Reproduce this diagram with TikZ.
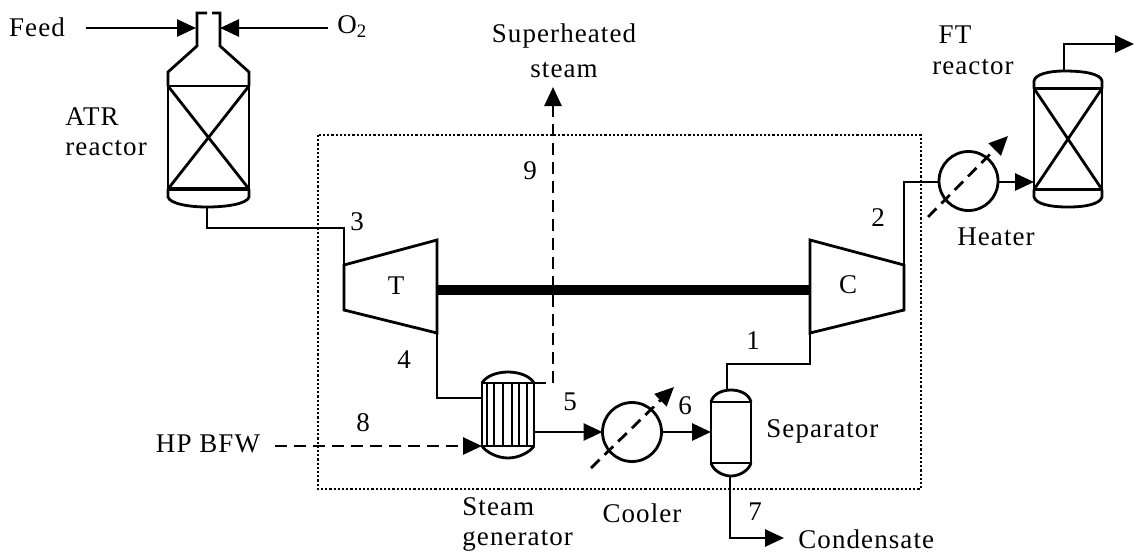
\documentclass[tikz,border=0pt]{standalone}
\usepackage{fontspec}
\setmainfont[LetterSpace=4]{Liberation Serif}
\usetikzlibrary{arrows.meta}
\begin{document}
\begin{tikzpicture}[x=1pt, y=-1pt, line width=2.8pt,
	lbl/.style={inner sep=0pt, font=\fontsize{27}{27}\selectfont},
	body/.style={draw, inner sep=0pt, outer sep=0pt},
	flow/.style={-{Triangle[length=19pt,width=17pt]}},
	steamflow/.style={flow, dashed, dash pattern=on 12pt off 7pt},
	hxcircle/.style={body, circle, minimum size=59pt}]
				
				\useasboundingbox (0,0) rectangle (1134,557);
				
				% System boundary
				\draw[dotted, line width=2.2pt] (318,135) rectangle (921,489);
				
				% ATR reactor
				\node[body, minimum width=81pt, minimum height=103pt] (atr) at (208.5,137.5) {};
				\draw (atr.north west) -- (atr.south east);
				\draw (atr.north east) -- (atr.south west);
				\draw (atr.north west) -- (168,72) -- (197,46) -- (197,13) -- (207,13);
				\draw (212,13) -- (220,13) -- (220,46) -- (249,72) -- (atr.north east);
				\draw[line width=3.5pt] (atr.south west) -- (atr.south east);
				\draw (atr.south west) -- (168,197) .. controls (170,204) and (190,207) .. (207,207)
				.. controls (226,207) and (247,204) .. (249,197) -- (atr.south east);
				\coordinate (atrout) at (207,207);
				\coordinate (feedin) at (196,28);
				\coordinate (oxin) at (220,28);
				
				% FT reactor
				\node[body, minimum width=68pt, minimum height=101pt] (ft) at (1068,139) {};
				\draw (ft.north west) -- (ft.south east);
				\draw (ft.north east) -- (ft.south west);
				\draw[line width=3.5pt] (ft.south west) -- (ft.south east);
				\draw (ft.north west) -- (1034,81) .. controls (1035,74) and (1050,71) .. (1064,71)
				.. controls (1085,71) and (1101,74) .. (1102,81) -- (ft.north east);
				\draw (ft.south west) -- (1034,197) .. controls (1036,204) and (1050,207) .. (1068,207)
				.. controls (1086,207) and (1100,204) .. (1102,197) -- (ft.south east);
				\coordinate (ftout) at (1064,71);
				\coordinate (ftin) at (1034,182);
				
				% Turbine, compressor and shaft
				\draw (344,265) -- (437,240) -- (437,333) -- (344,310) -- cycle;
				\draw (810,240) -- (904,265) -- (904,310) -- (810,333) -- cycle;
				\coordinate (tin) at (344,265);
				\coordinate (tout) at (437,333);
				\coordinate (cin) at (810,333);
				\coordinate (cout) at (904,265);
				\draw[line width=10pt] (437,290) -- (810,290);
				
				% Steam generator
				\node[body, minimum width=52pt, minimum height=63pt] (sg) at (508,414.5) {};
				\foreach \tx in {487,494,503,512,519,527}
				\draw[line width=2.4pt] (\tx,383) -- (\tx,446);
				\draw (sg.north west) .. controls (486,376) and (497,372) .. (508,372)
				.. controls (519,372) and (530,376) .. (sg.north east);
				\draw (sg.south west) .. controls (486,452) and (497,458) .. (508,458)
				.. controls (519,458) and (530,452) .. (sg.south east);
				\coordinate (sgin) at (482,398);
				\coordinate (sgwater) at (482,446);
				\coordinate (sgsteam) at (534,383);
				\coordinate (sgout) at (534,432);
				
				% Heat exchangers
				\node[hxcircle] (cooler) at (632,432) {};
				\node[hxcircle] (heater) at (968.5,181) {};
				\coordinate (coolera) at (591,468);
				\coordinate (coolerb) at (674,387);
				\coordinate (heatera) at (928,217);
				\coordinate (heaterb) at (1008,136);
				\draw[steamflow] (coolera) -- (coolerb);
				\draw[steamflow] (heatera) -- (heaterb);
				
				% Separator
				\node[body, minimum width=40pt, minimum height=61pt] (sep) at (731,432.5) {};
				\draw (sep.north west) .. controls (713,394) and (722,390) .. (731,390)
				.. controls (740,390) and (749,394) .. (sep.north east);
				\draw (sep.south west) .. controls (713,470) and (722,476) .. (731,476)
				.. controls (740,476) and (749,470) .. (sep.south east);
				\coordinate (septop) at (727,390);
				\coordinate (sepbot) at (730,476);
				\coordinate (sepin) at (711,432);
				
				% Free ends
				\coordinate (feedend) at (86,28);
				\coordinate (oxend) at (328,28);
				\coordinate (bfwend) at (275,446);
				\coordinate (steamend) at (553,87);
				\coordinate (ftend) at (1134,44);
				\coordinate (condend) at (784,538);
				
				% Process streams
				\draw[flow] (feedend) -- (feedin);
				\draw[flow] (oxend) -- (oxin);
				\draw (atrout) -- (207,228) -- (344,228) -- (tin);
				\draw (tout) -- (437,398) -- (sgin);
				\draw[flow] (sgout) -- (cooler.west);
				\draw[flow] (cooler.east) -- (sepin);
				\draw (septop) -- (727,364) -- (810,364) -- (cin);
				\draw (cout) -- (904,182) -- (heater.west |- ftin);
				\draw[flow] (heater.east |- ftin) -- (ftin);
				\draw[flow] (ftout) -- (1064,44) -- (ftend);
				\draw[flow] (sepbot) -- (730,538) -- (condend);
				
				% Water and steam
				\draw[steamflow] (bfwend) -- (sgwater);
				\draw[steamflow] (sgsteam) -- (553,383) -- (steamend);
				
				% Labels
				\node[lbl] (feed) at (37,27) {Feed};
				\node[lbl, anchor=west] (oxygen) at (336,27) {O\textsubscript{2}};
				\node[lbl, anchor=west] (atrlbl) at (64,117) {ATR};
				\node[lbl, anchor=west] (atrlblb) at (64,148) {reactor};
				\node[lbl] (steam) at (564,36) {Superheated};
				\node[lbl] (steamb) at (564,70) {steam};
				\node[lbl] (ftlbl) at (955,35) {FT};
				\node[lbl] (ftlblb) at (973,67) {reactor};
				\node[lbl] (hplbl) at (208,444) {HP BFW};
				\node[lbl] (tlbl) at (396,286) {T};
				\node[lbl] (clbl) at (848,285) {C};
				\node[lbl] (heaterlbl) at (996,237) {Heater};
				\node[lbl] (coolerlbl) at (642,513) {Cooler};
				\node[lbl, anchor=west] (seplbl) at (765,431) {Separator};
				\node[lbl, anchor=west] (sglbl) at (461,507) {Steam};
				\node[lbl, anchor=west] (sglblb) at (461,541) {generator};
				\node[lbl, anchor=west] (condlbl) at (797,539) {Condensate};
				
				% Stream numbers
				\node[lbl] (n1) at (753,341) {1};
				\node[lbl] (n2) at (878,218) {2};
				\node[lbl] (n3) at (357,222) {3};
				\node[lbl] (n4) at (404,360) {4};
				\node[lbl] (n5) at (570,402) {5};
				\node[lbl] (n6) at (685,406) {6};
				\node[lbl] (n7) at (755,512) {7};
				\node[lbl] (n8) at (363,423) {8};
				\node[lbl] (n9) at (530,171) {9};
				
			\end{tikzpicture}
\end{document}
